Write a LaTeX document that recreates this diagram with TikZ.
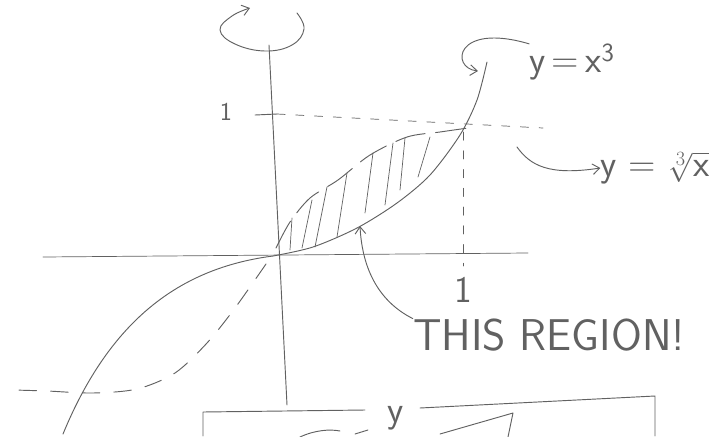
\documentclass[tikz,border=0pt]{standalone}
\usepackage{xcolor}
\usepackage{tikz}
\usetikzlibrary{arrows.meta, positioning, calc}
\definecolor{pencil}{gray}{0.38}
\tikzstyle{stroke} = [pencil, line width=0.8pt, line cap=round, line join=round]
\tikzstyle{arrow} = [stroke, ->, >={Straight Barb[length=6pt, width=9pt]}]
\tikzstyle{guide} = [stroke, line width=0.6pt, dash pattern=on 7pt off 9pt]
\tikzstyle{hatch} = [stroke, line width=0.6pt]
\tikzstyle{scribble} = [text=pencil, inner sep=0pt, font=\sffamily\fontsize{32}{34}\selectfont]

\begin{document}
\begin{tikzpicture}[x=0.03cm, y=-0.03cm]
\useasboundingbox (0,0) rectangle (716,436);
% Axes
\coordinate (origin) at (273,256);
\draw [stroke] (269,45) -- (287,405);
\draw [stroke, line width=0.6pt] (43,257) -- (528,253);
\draw [stroke] (255,115) -- (277,114);
\node (yone) [scribble, font=\sffamily\fontsize{22}{24}\selectfont] at (226,112) {1};

% Rotation about the y axis
\draw [arrow] plot [smooth, tension=0.7] coordinates {(297,13) (304,29) (292,45) (265,51) (235,44) (220,30) (232,16) (250,8)};

% Curves
\draw [stroke] (63,434) .. controls (110,320) and (180,268) .. (origin);
\draw [stroke] plot [smooth] coordinates {(273,256) (313,247) (357,228) (397,203) (430,175) (460,135) (477,100) (487,62)};
\draw [stroke, dash pattern=on 15pt off 12pt] plot [smooth] coordinates {(266,264) (235,308) (207,343) (175,373) (137,389) (93,393) (47,391) (13,390)};
\draw [stroke, dash pattern=on 26pt off 9pt] plot [smooth] coordinates {(276,248) (290,222) (310,198) (338,180) (370,155) (407,137) (440,132) (468,128)};

% Guides at x = 1 and y = 1
\draw [guide] (277,114) -- (543,128);
\draw [guide] (463,132) -- (463,266);
\node (xone) [scribble] at (463,290) {1};

% Shaded region
\foreach \a/\b/\c/\d in {292/218/290/250, 312/200/302/248, 327/187/315/247, 347/173/337/237,
                         373/153/365/213, 393/143/385/205, 405/138/400/190, 430/137/418/177}
    \draw [hatch] (\a,\b) -- (\c,\d);

% Labels
\node (ycube) [scribble] at (572,62) {y\,=\,x\textsuperscript{3}};
\node (yroot) [scribble] at (655,168) {y = $\sqrt[3]{\mbox{x}}$};
\node (region) [scribble, font=\sffamily\fontsize{38}{40}\selectfont] at (549,335) {THIS REGION!};

\coordinate (hitcube) at (478,71);
\coordinate (rootfrom) at (517,147);
\coordinate (hitregion) at (360,226);
\draw [arrow] (ycube.north west) .. controls (455,22) and (450,68) .. (hitcube);
\draw [arrow] (rootfrom) .. controls (530,165) and (548,176) .. (yroot.west);
\draw [arrow] (region.north west) .. controls (376,300) and (362,265) .. (hitregion);

% Bottom (cut off)
\draw [stroke] (203,436) -- (203,412) -- (365,410);
\draw [stroke] (420,408) -- (655,396) -- (655,436);
\node (ybottom) [scribble] at (396,418) {y};
\draw [stroke] (300,437) .. controls (315,430) and (330,429) .. (340,431);
\draw [stroke] (355,434) -- (368,430);
\draw [stroke] (440,434) -- (513,413) -- (508,437);
\end{tikzpicture}
\end{document}
